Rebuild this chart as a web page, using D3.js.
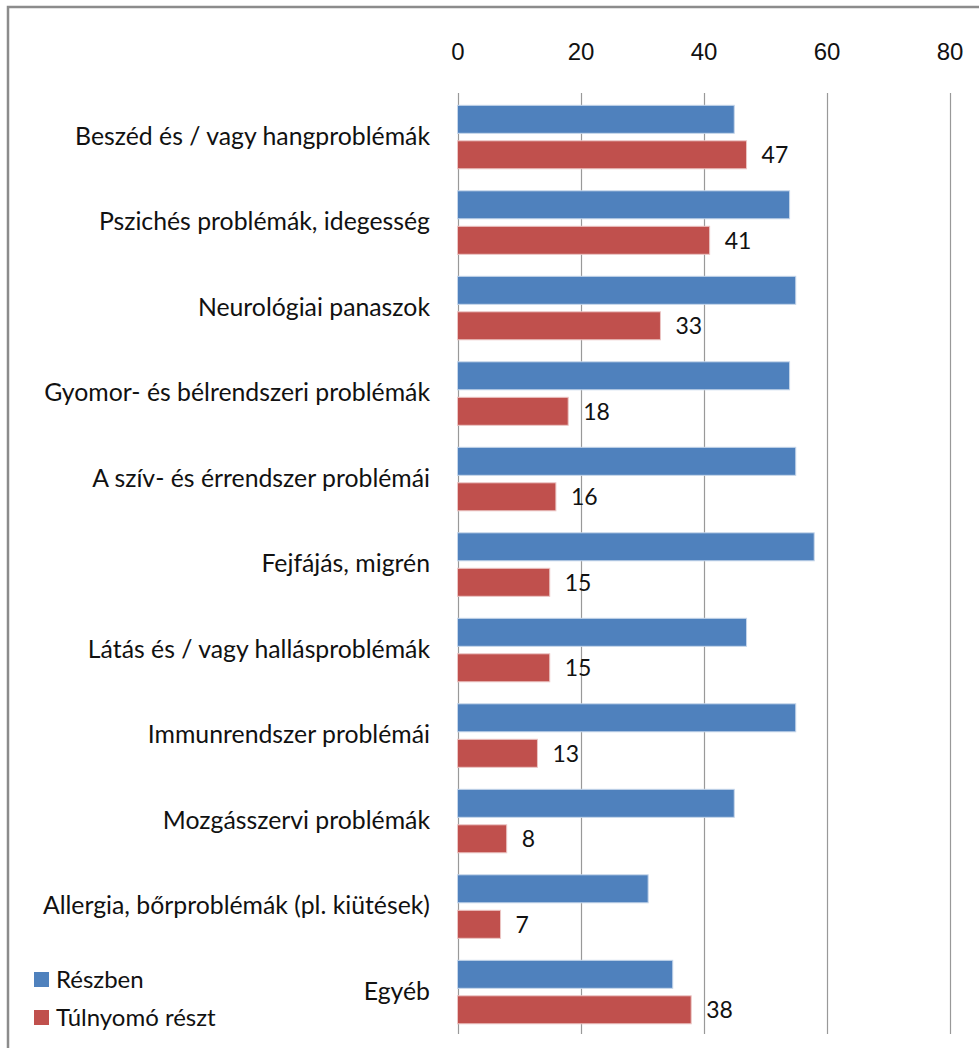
<!DOCTYPE html>
<html><head><meta charset="utf-8">
<script src="https://cdn.jsdelivr.net/npm/d3@7"></script>
<style>body{margin:0;background:#fff}svg{display:block}</style>
</head><body><div id="chart"></div>
<script>
const categories = [
  "Beszéd és / vagy hangproblémák",
  "Pszichés problémák, idegesség",
  "Neurológiai panaszok",
  "Gyomor- és bélrendszeri problémák",
  "A szív- és érrendszer problémái",
  "Fejfájás, migrén",
  "Látás és / vagy hallásproblémák",
  "Immunrendszer problémái",
  "Mozgásszervi problémák",
  "Allergia, bőrproblémák (pl. kiütések)",
  "Egyéb"
];
const seriesNames = ["Részben", "Túlnyomó részt"];
const reszben = [45, 54, 55, 54, 55, 58, 47, 55, 45, 31, 35];
const tulnyomo = [47, 41, 33, 18, 16, 15, 15, 13, 8, 7, 38];
const xTicks = [0, 20, 40, 60, 80];
const colors = ["#4F81BD", "#C0504D"];

const W = 979, H = 1048;
const svg = d3.select("#chart").append("svg").attr("width", W).attr("height", H);

// frame
svg.append("rect").attr("x", 8).attr("y", 7).attr("width", W + 20).attr("height", H + 20)
  .attr("fill", "#fff").attr("stroke", "#8c8c8c").attr("stroke-width", 2.5);

const x = d3.scaleLinear().domain([0, 80]).range([457.5, 949.5]);
const y = d3.scaleBand().domain(categories).range([94.3, 1034.8]);
const yIn = d3.scaleBand().domain(seriesNames).range([0, y.bandwidth()])
  .paddingInner(0.211).paddingOuter(0.31);

// gridlines
svg.append("g").selectAll("line").data(xTicks).join("line")
  .attr("x1", d => Math.round(x(d)) + 0.5).attr("x2", d => Math.round(x(d)) + 0.5)
  .attr("y1", 93).attr("y2", 1034)
  .attr("stroke", "#999").attr("stroke-width", 1.2);

// top axis tick labels
const ax = svg.append("g").attr("transform", "translate(0,52)")
  .call(d3.axisTop(x).tickValues(xTicks).tickSize(0).tickPadding(0));
ax.select(".domain").remove();
ax.selectAll("text").attr("font-family", "'Liberation Sans', Arial, sans-serif")
  .attr("font-size", 24).attr("fill", "#111").attr("dy", "0.35em");

const rows = categories.map((c, i) => ({c, v: [reszben[i], tulnyomo[i]]}));

const g = svg.append("g").selectAll("g").data(rows).join("g")
  .attr("transform", d => `translate(0,${y(d.c)})`);

g.selectAll("rect").data(d => d.v.map((v, k) => ({v, s: seriesNames[k], k})))
  .join("rect")
  .attr("x", x(0)).attr("y", d => yIn(d.s))
  .attr("width", d => x(d.v) - x(0)).attr("height", yIn.bandwidth())
  .attr("fill", d => colors[d.k])
  .attr("stroke", d => d.k === 0 ? "#c6d6ea" : "#ecc6c5").attr("stroke-width", 1);

// data labels on second series
g.append("text")
  .attr("x", d => x(d.v[1]) + 15)
  .attr("y", yIn("Túlnyomó részt") + yIn.bandwidth() / 2)
  .attr("dy", "0.36em")
  .attr("font-family", "Lato, sans-serif").attr("font-size", 23).attr("fill", "#111")
  .text(d => d.v[1]);

// category labels
g.append("text")
  .attr("x", 430).attr("y", y.bandwidth() / 2 - 1).attr("dy", "0.36em")
  .attr("text-anchor", "end")
  .attr("font-family", "Lato, sans-serif").attr("font-size", 24.8).attr("fill", "#111")
  .text(d => d.c);

// legend
const lg = svg.append("g").selectAll("g").data(seriesNames).join("g")
  .attr("transform", (d, i) => `translate(34,${972 + i * 38})`);
lg.append("rect").attr("width", 15).attr("height", 15).attr("fill", (d, i) => colors[i]);
lg.append("text").attr("x", 22).attr("y", 7.5).attr("dy", "0.36em")
  .attr("font-family", "Lato, sans-serif").attr("font-size", 24).attr("fill", "#111")
  .text(d => d);
</script>
</body></html>
